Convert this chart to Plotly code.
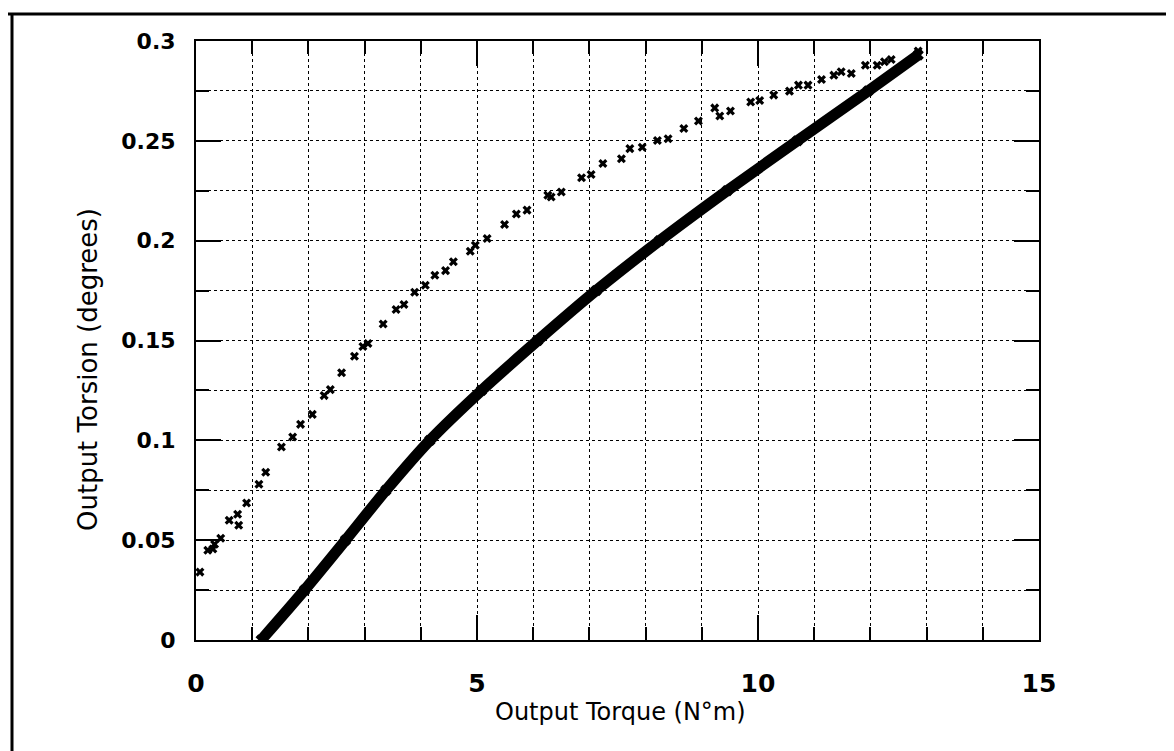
import plotly.graph_objects as go

# Upper branch (sparse 'x' markers)
upper_x = [0.07, 0.21, 0.30, 0.33, 0.44, 0.59, 0.74, 0.76, 0.90, 1.12, 1.24, 1.52, 1.72, 1.86,
           2.07, 2.28, 2.39, 2.59, 2.82, 2.97, 3.06, 3.33, 3.56, 3.70, 3.89, 4.08, 4.25, 4.44,
           4.58, 4.88, 4.97, 5.18, 5.49, 5.70, 5.89, 6.26, 6.32, 6.50, 6.86, 7.03, 7.24, 7.57,
           7.72, 7.94, 8.21, 8.40, 8.68, 8.94, 9.23, 9.32, 9.51, 9.87, 10.03, 10.28, 10.56,
           10.72, 10.89, 11.13, 11.35, 11.48, 11.66, 11.91, 12.12, 12.25, 12.37, 12.85]
upper_y = [0.034, 0.045, 0.0456, 0.048, 0.051, 0.060, 0.063, 0.0575, 0.0686, 0.078, 0.084,
           0.0967, 0.1017, 0.108, 0.113, 0.1224, 0.1254, 0.1338, 0.1421, 0.147, 0.1485,
           0.1583, 0.1655, 0.168, 0.1742, 0.1777, 0.1827, 0.185, 0.1894, 0.1947, 0.1977,
           0.2011, 0.2081, 0.2134, 0.2153, 0.2228, 0.2219, 0.2244, 0.2315, 0.2331, 0.2386,
           0.241, 0.2461, 0.2468, 0.2502, 0.251, 0.2562, 0.2599, 0.2665, 0.2624, 0.2649,
           0.2694, 0.2702, 0.2729, 0.2749, 0.2779, 0.2779, 0.2807, 0.2829, 0.2846, 0.2837,
           0.2879, 0.2879, 0.2896, 0.2907, 0.295]

# Lower branch (dense, appears as a thick band)
lower_x = [1.16, 1.93, 2.66, 3.38, 4.16, 5.08, 6.08, 7.12, 8.25, 9.45, 10.7, 11.96, 12.85]
lower_y = [0.0, 0.025, 0.05, 0.075, 0.1, 0.125, 0.15, 0.175, 0.2, 0.225, 0.25, 0.275, 0.293]

x_title = "Output Torque (N°m)"
y_title = "Output Torsion (degrees)"

fig = go.Figure()
fig.add_trace(go.Scatter(x=lower_x, y=lower_y, mode="lines+markers",
                         line=dict(color="black", width=11, shape="spline", smoothing=0.8),
                         marker=dict(symbol="x", size=10, color="black"),
                         showlegend=False, hoverinfo="skip"))
fig.add_trace(go.Scatter(x=upper_x, y=upper_y, mode="markers",
                         marker=dict(symbol="x", size=8, color="black"),
                         showlegend=False))

grid = dict(showgrid=True, gridcolor="black", gridwidth=1.2, griddash="dot")

fig.update_xaxes(range=[0, 15], tick0=0, dtick=5, ticks="inside", ticklen=25, tickwidth=2,
                 tickcolor="black", showline=True, linecolor="black", linewidth=2,
                 mirror="ticks", zeroline=False, ticklabelstandoff=20,
                 tickfont=dict(family="DejaVu Sans", size=25, color="black", weight="bold"),
                 minor=dict(dtick=1, ticks="inside", ticklen=13, tickwidth=2, tickcolor="black",
                            **grid),
                 **grid)
fig.update_yaxes(range=[0, 0.3], tick0=0, dtick=0.05, ticks="inside", ticklen=25, tickwidth=2,
                 tickcolor="black", showline=True, linecolor="black", linewidth=2,
                 mirror="ticks", zeroline=False, ticklabelstandoff=14,
                 tickfont=dict(family="DejaVu Sans", size=22, color="black", weight="bold"),
                 minor=dict(dtick=0.025, ticks="inside", ticklen=13, tickwidth=2, tickcolor="black",
                            **grid),
                 **grid)

fig.update_layout(
    width=1174, height=751,
    margin=dict(l=188, r=143, t=33, b=119),
    paper_bgcolor="white", plot_bgcolor="white",
    font=dict(family="DejaVu Sans", color="black"),
    annotations=[
        dict(text=x_title, xref="paper", yref="paper",
             x=(612 - 188) / 843, y=(632 - 704) / 599, xanchor="center", yanchor="middle",
             showarrow=False, font=dict(family="DejaVu Sans", size=24, color="black")),
        dict(text=y_title, xref="paper", yref="paper", textangle=-90,
             x=(80 - 188) / 843, y=(632 - 362) / 599, xanchor="center", yanchor="middle",
             showarrow=False, font=dict(family="DejaVu Sans", size=26, color="black")),
    ],
    shapes=[
        dict(type="line", xref="paper", yref="paper",
             x0=(0 - 188) / 843, x1=(1174 - 188) / 843,
             y0=(632 - 6) / 599, y1=(632 - 6) / 599,
             line=dict(color="black", width=3)),
        dict(type="line", xref="paper", yref="paper",
             x0=(4 - 188) / 843, x1=(4 - 188) / 843,
             y0=(632 - 6) / 599, y1=(632 - 751) / 599,
             line=dict(color="black", width=3)),
    ],
)

fig.write_html("out.html")
